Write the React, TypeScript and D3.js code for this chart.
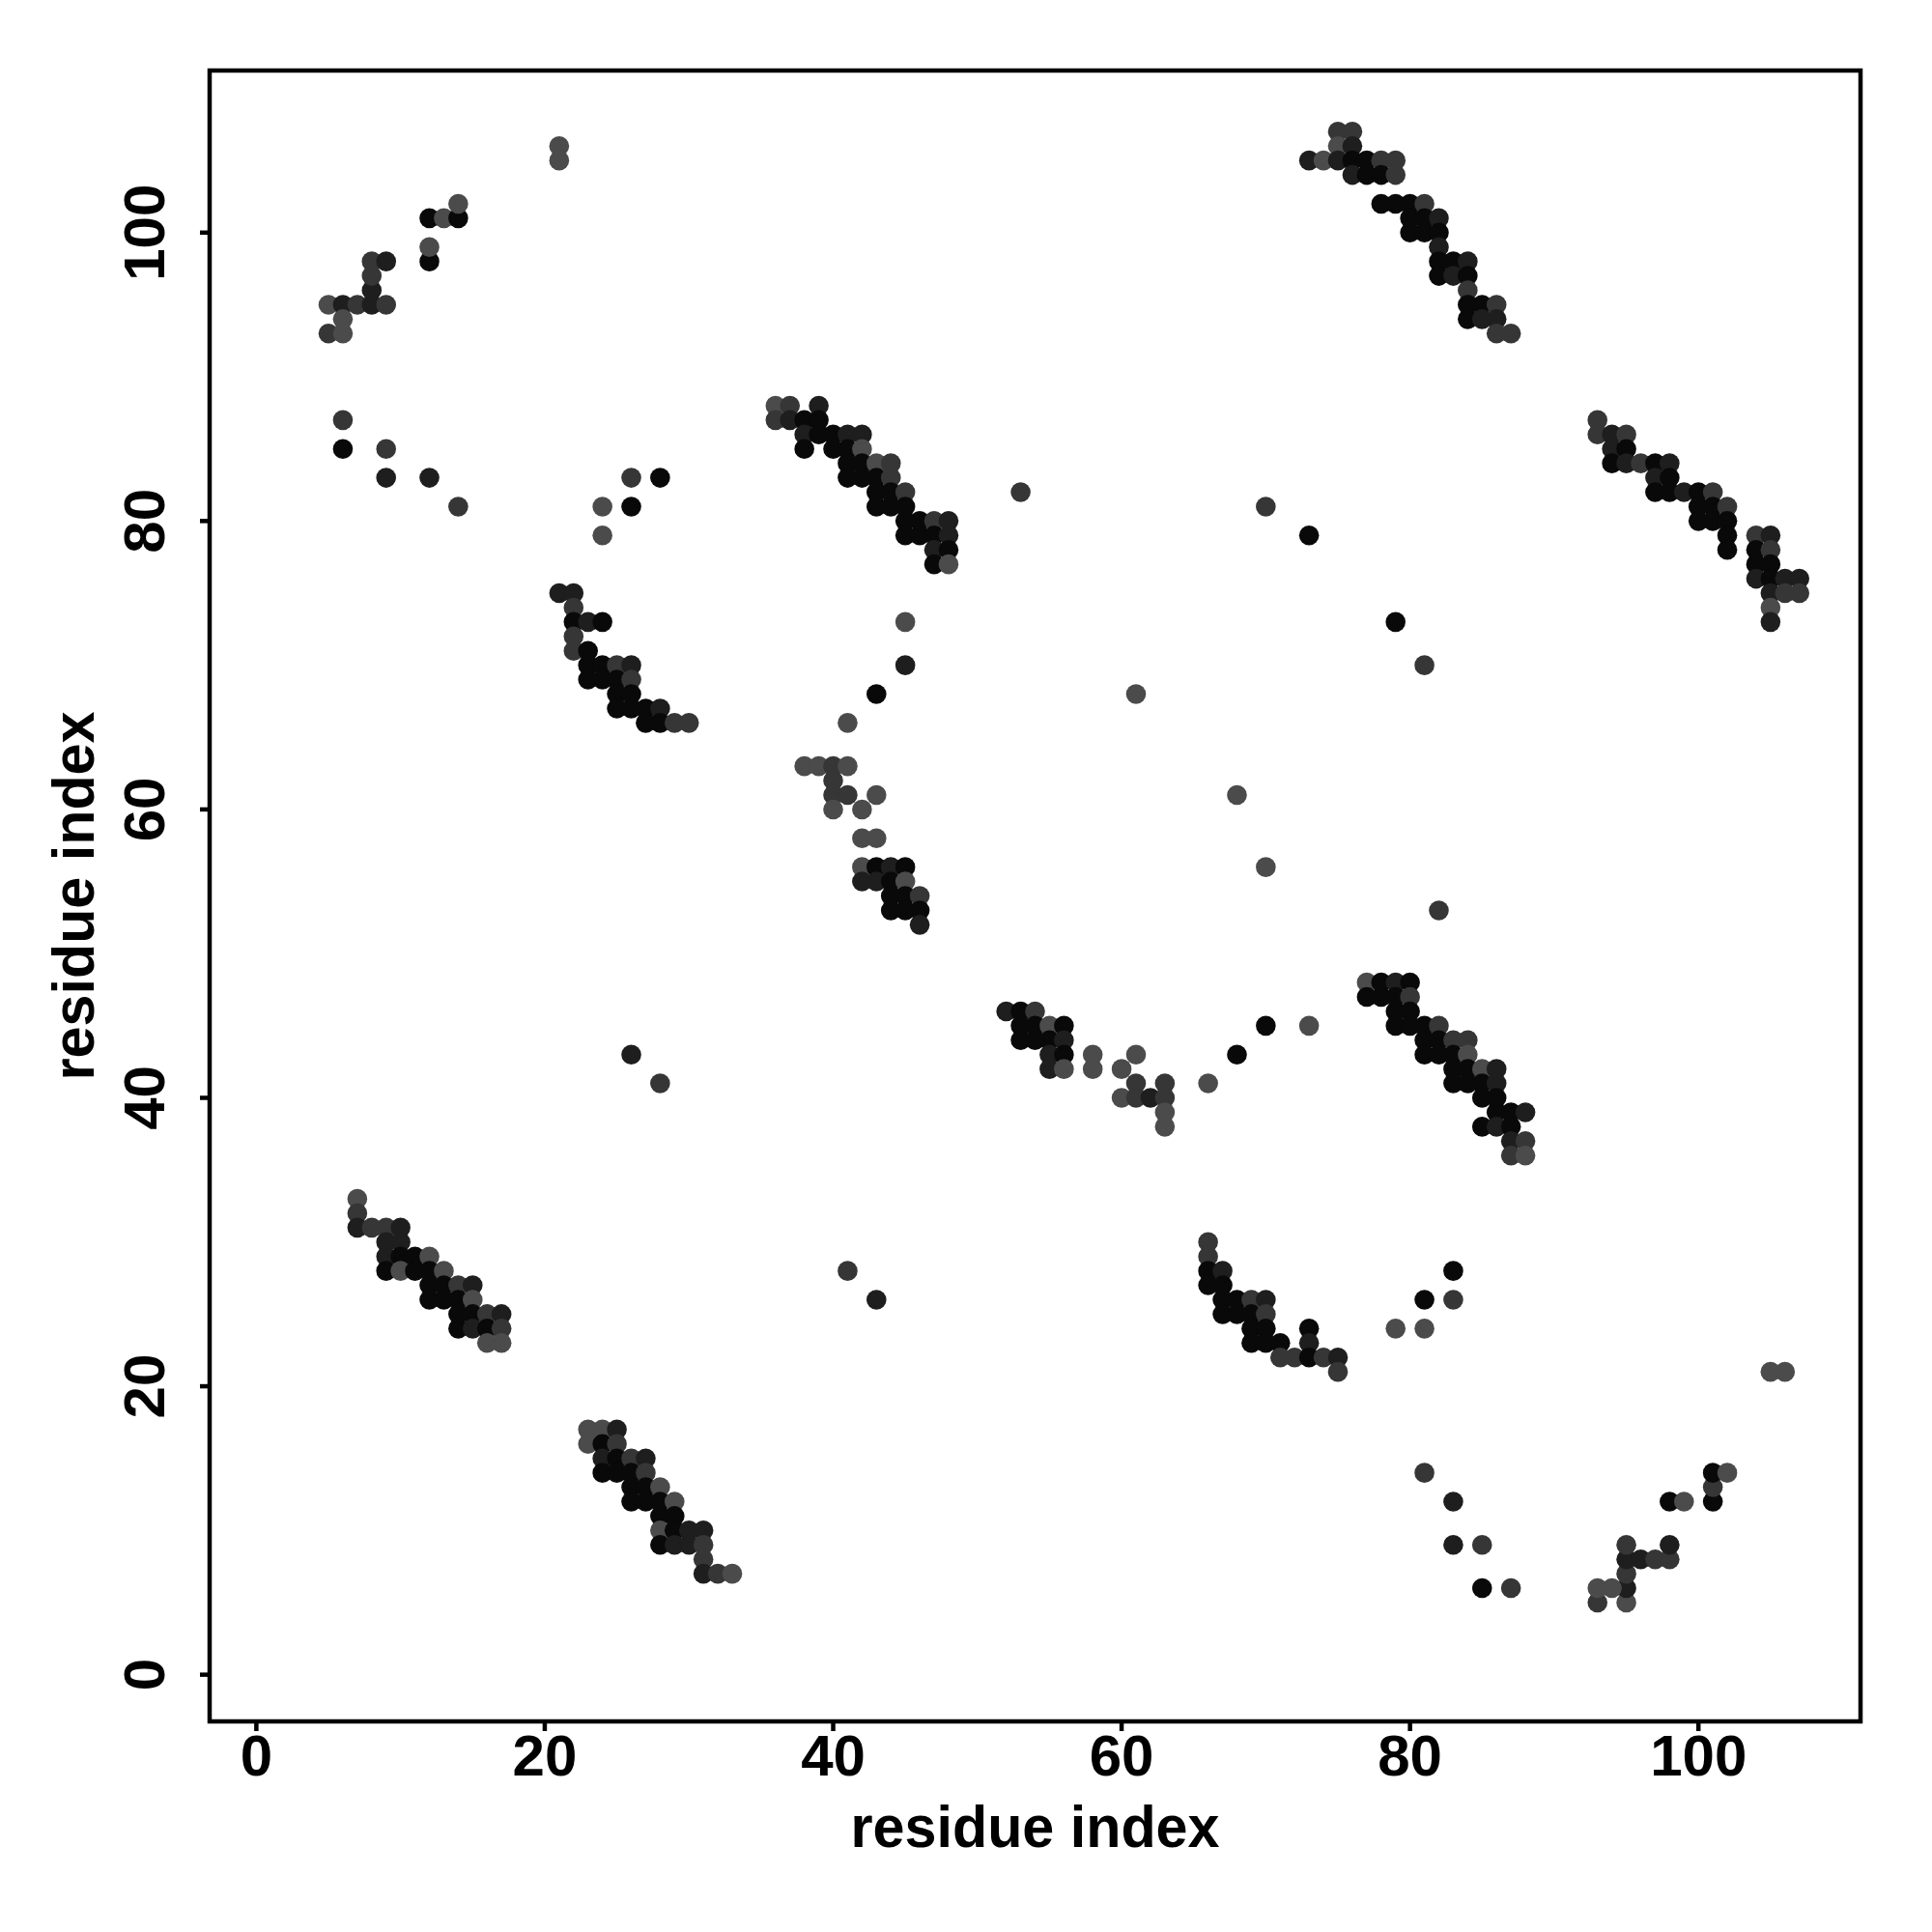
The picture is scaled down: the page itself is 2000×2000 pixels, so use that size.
import React from "react";
import * as d3 from "d3";

// contact points: [residue i, residue j, shade level 1 (light) .. 4 (black)]
const sheetNW: [number, number, number][] = [
  [5, 95, 1], [6, 95, 3], [7, 95, 2], [8, 95, 3], [9, 95, 2], [6, 94, 1], [5, 93, 2], [6, 93, 1],
  [8, 96, 3], [8, 97, 2], [8, 98, 2], [9, 98, 3], [12, 98, 4], [12, 99, 1], [12, 101, 4],
  [13, 101, 1], [14, 101, 4], [14, 102, 1],
];
const sheetSE: [number, number, number][] = [
  [95, 5, 1], [95, 6, 3], [95, 7, 2], [95, 8, 3], [95, 9, 2], [94, 6, 1], [93, 5, 2], [93, 6, 1],
  [96, 8, 3], [97, 8, 2], [98, 8, 2], [98, 9, 3], [98, 12, 4], [99, 12, 1], [101, 12, 4],
  [101, 13, 2], [101, 14, 4], [102, 14, 1],
];
const loneNW: [number, number, number][] = [
  [21, 106, 1], [21, 105, 1], [6, 87, 2], [6, 85, 4], [9, 85, 2], [9, 83, 3], [12, 83, 3],
  [14, 81, 2], [26, 83, 2], [28, 83, 4], [24, 81, 1], [26, 81, 4], [24, 79, 1],
];
const loneSE: [number, number, number][] = [
  [106, 21, 1], [105, 21, 1], [87, 6, 2], [85, 6, 4], [85, 9, 2], [83, 9, 3], [83, 12, 3],
  [81, 14, 2], [83, 26, 2], [83, 28, 4], [81, 24, 1], [81, 26, 4], [79, 24, 1],
];
const loneMid: [number, number, number][] = [
  [26, 43, 3], [28, 41, 2], [41, 28, 2], [43, 26, 3],
  [45, 73, 1], [45, 70, 3], [43, 68, 4], [41, 66, 1], [61, 68, 1], [68, 61, 1], [70, 56, 1],
  [53, 82, 2], [82, 53, 2], [70, 81, 2], [81, 70, 2], [73, 79, 4], [79, 73, 4],
  [73, 45, 1], [70, 45, 4], [68, 43, 4], [66, 41, 1],
];
const hairpinB: [number, number, number][] = [
  [21, 75, 3], [22, 75, 3], [22, 74, 2], [22, 73, 4], [23, 73, 3], [24, 73, 4], [22, 72, 2],
  [22, 71, 2], [23, 71, 4], [23, 70, 4], [24, 70, 4], [25, 70, 2], [26, 70, 3], [23, 69, 4],
  [24, 69, 4], [25, 69, 4], [26, 69, 2], [25, 68, 4], [26, 68, 4], [25, 67, 4], [26, 67, 4],
  [27, 67, 4], [28, 67, 3], [27, 66, 4], [28, 66, 4], [29, 66, 2], [30, 66, 2],
];
const hairpinBt: [number, number, number][] = [
  [66, 30, 2], [66, 29, 2], [66, 28, 4], [67, 28, 3], [66, 27, 4], [67, 27, 4], [67, 26, 4],
  [68, 26, 4], [69, 26, 2], [70, 26, 3], [67, 25, 4], [68, 25, 4], [69, 25, 4], [70, 25, 2],
  [69, 24, 4], [70, 24, 4], [73, 24, 4], [69, 23, 4], [70, 23, 4], [71, 23, 4], [73, 23, 3],
  [71, 22, 2], [72, 22, 2], [73, 22, 4], [74, 22, 2], [75, 22, 3], [75, 21, 2],
];
const strandC: [number, number, number][] = [
  [7, 33, 1], [7, 32, 2], [7, 31, 3], [8, 31, 2], [9, 31, 2], [10, 31, 3], [9, 30, 3], [10, 30, 3],
  [9, 29, 3], [10, 29, 4], [11, 29, 4], [12, 29, 1], [9, 28, 4], [10, 28, 1], [11, 28, 4],
  [12, 28, 4], [13, 28, 1], [12, 27, 4], [13, 27, 4], [14, 27, 2], [15, 27, 3], [12, 26, 4],
  [13, 26, 4], [14, 26, 4], [15, 26, 1], [14, 25, 4], [15, 25, 4], [16, 25, 2], [17, 25, 3],
  [14, 24, 4], [15, 24, 3], [16, 24, 4], [17, 24, 2], [16, 23, 1], [17, 23, 1],
];
const strandCt: [number, number, number][] = [
  [23, 17, 1], [24, 17, 1], [25, 17, 3], [23, 16, 1], [24, 16, 4], [25, 16, 2], [24, 15, 3],
  [25, 15, 4], [26, 15, 2], [27, 15, 3], [24, 14, 4], [25, 14, 4], [26, 14, 4], [27, 14, 2],
  [26, 13, 4], [27, 13, 4], [28, 13, 1], [26, 12, 4], [27, 12, 4], [28, 12, 4], [29, 12, 1],
  [28, 11, 4], [29, 11, 4], [28, 10, 1], [29, 10, 4], [30, 10, 3], [31, 10, 3], [28, 9, 4],
  [29, 9, 3], [30, 9, 3], [31, 9, 2], [31, 8, 2], [31, 7, 3], [32, 7, 2], [33, 7, 1],
];
const strandD: [number, number, number][] = [
  [36, 88, 1], [37, 88, 2], [39, 88, 3], [36, 87, 2], [37, 87, 3], [38, 87, 4], [39, 87, 4],
  [38, 86, 3], [39, 86, 4], [40, 86, 4], [41, 86, 3], [42, 86, 3], [38, 85, 4], [40, 85, 4],
  [41, 85, 4], [42, 85, 1], [41, 84, 4], [42, 84, 4], [43, 84, 1], [44, 84, 2], [41, 83, 4],
  [42, 83, 4], [43, 83, 4], [44, 83, 2], [43, 82, 4], [44, 82, 4], [45, 82, 2], [43, 81, 4],
  [44, 81, 4], [45, 81, 4], [45, 80, 4], [46, 80, 4], [47, 80, 2], [48, 80, 3], [45, 79, 4],
  [46, 79, 4], [47, 79, 4], [48, 79, 3], [47, 78, 3], [48, 78, 4], [47, 77, 4], [48, 77, 1],
];
const strandDt: [number, number, number][] = [
  [77, 48, 1], [78, 48, 4], [79, 48, 3], [80, 48, 4], [77, 47, 4], [78, 47, 4], [79, 47, 4],
  [80, 47, 2], [79, 46, 4], [80, 46, 4], [79, 45, 4], [80, 45, 4], [81, 45, 4], [82, 45, 2],
  [81, 44, 4], [82, 44, 4], [83, 44, 2], [84, 44, 2], [81, 43, 4], [82, 43, 4], [83, 43, 4],
  [84, 43, 1], [83, 42, 4], [84, 42, 4], [85, 42, 1], [86, 42, 3], [83, 41, 4], [84, 41, 4],
  [85, 41, 4], [86, 41, 3], [85, 40, 4], [86, 40, 4], [86, 39, 4], [87, 39, 4], [88, 39, 3],
  [85, 38, 4], [86, 38, 3], [87, 38, 4], [87, 37, 3], [88, 37, 2], [87, 36, 2], [88, 36, 1],
];
const strandE: [number, number, number][] = [
  [38, 63, 1], [39, 63, 1], [40, 63, 2], [41, 63, 1], [40, 62, 2], [40, 61, 2], [41, 61, 2],
  [43, 61, 1], [40, 60, 1], [42, 60, 1], [42, 58, 1], [43, 58, 1], [42, 56, 1], [43, 56, 4],
  [44, 56, 3], [45, 56, 4], [42, 55, 3], [43, 55, 3], [44, 55, 4], [45, 55, 1], [44, 54, 4],
  [45, 54, 4], [46, 54, 2], [44, 53, 4], [45, 53, 4], [46, 53, 4], [46, 52, 3],
];
const strandEt: [number, number, number][] = [
  [52, 46, 3], [53, 46, 4], [54, 46, 2], [53, 45, 4], [54, 45, 4], [55, 45, 1], [56, 45, 4],
  [53, 44, 4], [54, 44, 4], [55, 44, 4], [56, 44, 3], [55, 43, 3], [56, 43, 4], [58, 43, 1],
  [61, 43, 1], [55, 42, 3], [56, 42, 1], [58, 42, 1], [60, 42, 1], [61, 41, 2], [63, 41, 2],
  [60, 40, 1], [61, 40, 2], [62, 40, 3], [63, 40, 2], [63, 39, 1], [63, 38, 1],
];
const strandF: [number, number, number][] = [
  [75, 107, 2], [76, 107, 2], [75, 106, 1], [76, 106, 3], [73, 105, 3], [74, 105, 1], [75, 105, 3],
  [76, 105, 4], [77, 105, 4], [78, 105, 2], [79, 105, 2], [76, 104, 3], [77, 104, 4], [78, 104, 4],
  [79, 104, 2], [78, 102, 4], [79, 102, 4], [80, 102, 4], [81, 102, 2], [80, 101, 4], [81, 101, 4],
  [82, 101, 3], [80, 100, 4], [81, 100, 4], [82, 100, 4], [82, 99, 3], [82, 98, 4], [83, 98, 4],
  [84, 98, 3], [82, 97, 4], [83, 97, 3], [84, 97, 4], [84, 96, 2], [84, 95, 4], [85, 95, 4],
  [86, 95, 2], [84, 94, 4], [85, 94, 3], [86, 94, 3], [86, 93, 2], [87, 93, 2],
];
const strandFt: [number, number, number][] = [
  [93, 87, 2], [93, 86, 2], [94, 86, 3], [95, 86, 2], [94, 85, 3], [95, 85, 4], [94, 84, 4],
  [95, 84, 3], [96, 84, 2], [97, 84, 4], [98, 84, 3], [97, 83, 3], [98, 83, 4], [97, 82, 4],
  [98, 82, 4], [99, 82, 3], [100, 82, 4], [101, 82, 2], [100, 81, 4], [101, 81, 4], [102, 81, 2],
  [100, 80, 4], [101, 80, 4], [102, 80, 4], [102, 79, 4], [104, 79, 2], [105, 79, 3], [102, 78, 4],
  [104, 78, 4], [105, 78, 2], [104, 77, 4], [105, 77, 4], [104, 76, 3], [105, 76, 4], [106, 76, 3],
  [107, 76, 3], [105, 75, 3], [106, 75, 2], [107, 75, 2], [105, 74, 1], [105, 73, 3],
];

const axisTicks = [0, 20, 40, 60, 80, 100];
const axisTitle = "residue index";

const box = { left: 217, right: 1926, top: 73, bottom: 1782 };
const font = "'Liberation Sans', Arial, Helvetica, sans-serif";

export default function App() {
  const all = [
    ...sheetNW, ...sheetSE, ...loneNW, ...loneSE, ...loneMid,
    ...hairpinB, ...hairpinBt, ...strandC, ...strandCt,
    ...strandD, ...strandDt, ...strandE, ...strandEt, ...strandF, ...strandFt,
  ];
  // R-style 4% padding around residue range 1..107
  const pad = 0.04 * (107 - 1);
  const x = d3.scaleLinear().domain([1 - pad, 107 + pad]).range([box.left, box.right]);
  const y = d3.scaleLinear().domain([1 - pad, 107 + pad]).range([box.bottom, box.top]);
  const shade = d3.scaleOrdinal<number, string>()
    .domain([1, 2, 3, 4])
    .range(["#4b4b4b", "#363636", "#1e1e1e", "#090909"]);

  return (
    <svg width={2000} height={2000} style={{ position: "absolute", left: 0, top: 0, background: "#fff" }}>
      <rect x={0} y={0} width={2000} height={2000} fill="#fff" />
      {all.map(([i, j, s], k) => (
        <circle key={k} cx={x(i)} cy={y(j)} r={10.3} fill={shade(s)} />
      ))}
      <rect
        x={box.left}
        y={box.top}
        width={box.right - box.left}
        height={box.bottom - box.top}
        fill="none"
        stroke="#000"
        strokeWidth={4.5}
      />
      {axisTicks.map((t) => (
        <g key={"x" + t}>
          <line x1={x(t)} x2={x(t)} y1={box.bottom} y2={box.bottom + 10} stroke="#000" strokeWidth={4.5} />
          <text x={x(t)} y={1838} textAnchor="middle" fontFamily={font} fontWeight="bold" fontSize={60}>
            {t}
          </text>
        </g>
      ))}
      {axisTicks.map((t) => (
        <g key={"y" + t}>
          <line x1={box.left - 10} x2={box.left} y1={y(t)} y2={y(t)} stroke="#000" strokeWidth={4.5} />
          <text
            transform={`translate(170,${y(t)}) rotate(-90)`}
            textAnchor="middle"
            fontFamily={font}
            fontWeight="bold"
            fontSize={60}
          >
            {t}
          </text>
        </g>
      ))}
      <text
        x={(box.left + box.right) / 2}
        y={1912}
        textAnchor="middle"
        fontFamily={font}
        fontWeight="bold"
        fontSize={62}
        textLength={382}
        lengthAdjust="spacingAndGlyphs"
      >
        {axisTitle}
      </text>
      <text
        transform={`translate(97,${(box.top + box.bottom) / 2}) rotate(-90)`}
        textAnchor="middle"
        fontFamily={font}
        fontWeight="bold"
        fontSize={62}
        textLength={382}
        lengthAdjust="spacingAndGlyphs"
      >
        {axisTitle}
      </text>
    </svg>
  );
}
